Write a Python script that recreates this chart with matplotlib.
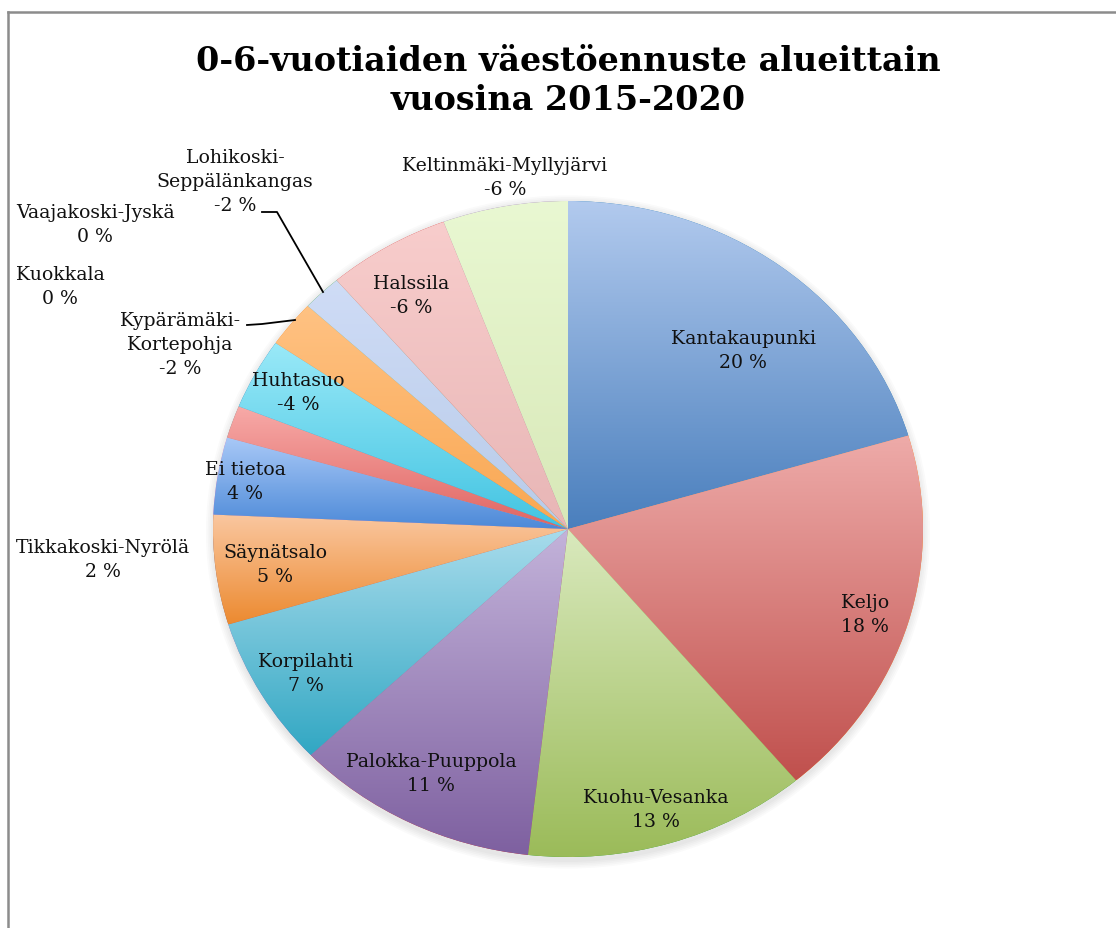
import numpy as np
import matplotlib
matplotlib.use("Agg")
import matplotlib.pyplot as plt
from matplotlib.colors import LinearSegmentedColormap
from matplotlib.lines import Line2D
from matplotlib.patches import Ellipse

# ---------------- data ----------------
areas = ["Kantakaupunki", "Keljo", "Kuohu-Vesanka", "Palokka-Puuppola",
         "Korpilahti", "Säynätsalo", "Ei tietoa", "Tikkakoski-Nyrölä",
         "Kuokkala", "Vaajakoski-Jyskä", "Huhtasuo",
         "Kypärämäki-\nKortepohja", "Lohikoski-\nSeppälänkangas",
         "Halssila", "Keltinmäki-Myllyjärvi"]
values = [20.4, 18.5, 12.9, 11.1, 7.4, 5.4, 3.8, 1.6, 0.0, 0.0,
          -3.5, -2.3, -1.8, -5.6, -5.7]
top_colors = ["#b2caee", "#eeaba9", "#d9e9bd", "#c3b3da", "#a9dcec", "#fac7a0",
              "#a9c9f7", "#f7aaa8", "#d9e9bd", "#c3b3da", "#9ae9f8", "#ffc283",
              "#cfdcf6", "#f8cdcc", "#e9f8d2"]
bottom_colors = ["#4a7fbd", "#c0504d", "#9bbb59", "#7e60a0", "#31a7c3", "#ec8a30",
                 "#4c89d8", "#e06461", "#9bbb59", "#7e60a0", "#42c4e2", "#f9a752",
                 "#b8cbe9", "#e8b6b6", "#d8e8b8"]

# label positions (pixel centres of each label block)
label_pos = [(743, 351), (865, 615), (656, 810), (431, 774), (306, 674),
             (275, 565), (245, 482), (103, 560), (60, 287), (95, 225),
             (298, 393), (180, 345), (235, 182), (411, 296), (505, 178)]

W, H = 1116, 929
CX, CY, RX, RY = 568, 530, 355, 328


def px(x, y):
    return ((x - CX) / RX, (CY - y) / RY)


fig = plt.figure(figsize=(W / 100, H / 100), dpi=100)
ax = fig.add_axes([0, 0, 1, 1])

sizes = np.abs(values)
wedges, _ = ax.pie(sizes, startangle=90, counterclock=False, radius=1,
                   wedgeprops=dict(linewidth=0))
ax.set_aspect('auto')
xlim = ((0 - CX) / RX, (W - CX) / RX)
ylim = ((CY - H) / RY, CY / RY)

# soft shadow
for k, s in enumerate(np.linspace(1.02, 1.0, 5)):
    e = Ellipse((0, -3 / RY), 2 * s, 2 * s * (1 + 2 / RY), facecolor="#000000",
                alpha=0.018, lw=0, zorder=0)
    ax.add_patch(e)

grad = np.linspace(0, 1, 256).reshape(-1, 1)
for w, c0, c1 in zip(wedges, top_colors, bottom_colors):
    if w.theta2 - w.theta1 <= 1e-6:
        continue
    bb = w.get_path().get_extents()
    cmap = LinearSegmentedColormap.from_list("g", [c1, c0])
    im = ax.imshow(grad, cmap=cmap, extent=[bb.x0, bb.x1, bb.y0, bb.y1],
                   origin="lower", aspect="auto", interpolation="bilinear",
                   zorder=w.get_zorder() + 0.1)
    im.set_clip_path(w)

ax.set_xlim(xlim)
ax.set_ylim(ylim)
ax.axis("off")

serif = ["DejaVu Serif"]
for name, v, (lx, ly) in zip(areas, values, label_pos):
    txt = f"{name}\n{int(round(v))} %"
    x, y = px(lx, ly)
    ax.text(x, y, txt, ha="center", va="center", fontsize=13.6,
            family=serif, color="#111111", linespacing=1.42, zorder=5)

# leader lines
for pts in ([(262, 213), (277, 213), (323, 293)],
            [(247, 326), (262, 325), (295, 321)]):
    xs, ys = zip(*[px(a, b) for a, b in pts])
    ax.plot(xs, ys, color="black", lw=1.3, zorder=5)

# title
fig.text(568 / W, 1 - 81 / H, "0-6-vuotiaiden väestöennuste alueittain\nvuosina 2015-2020",
         ha="center", va="center", fontsize=24, fontweight="bold",
         family=serif, linespacing=1.25)

# chart-area border
fig.add_artist(Line2D([8 / W, 8 / W], [0, 1 - 13 / H], transform=fig.transFigure,
                      color="#8c8c8c", lw=1.8))
fig.add_artist(Line2D([8 / W, 1], [1 - 13 / H, 1 - 13 / H], transform=fig.transFigure,
                      color="#8c8c8c", lw=1.8))

fig.savefig("out.png", dpi=100, facecolor="white")
